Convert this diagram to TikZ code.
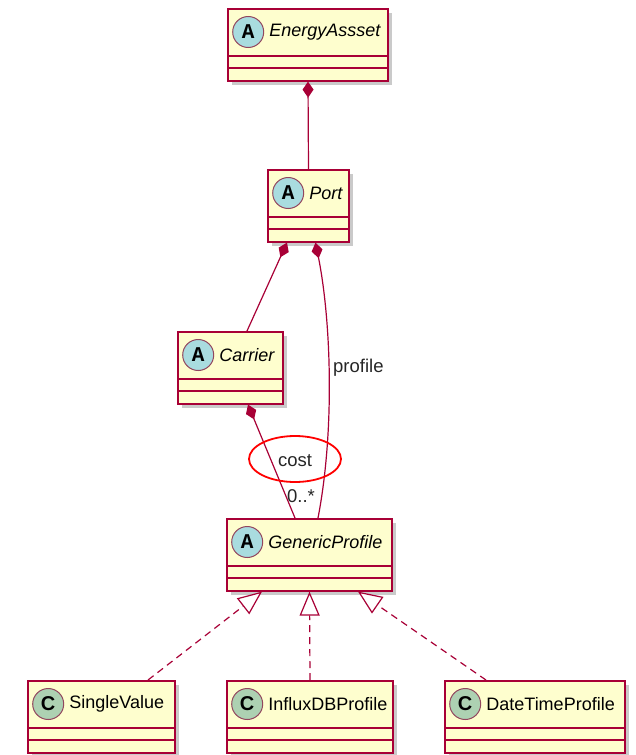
\documentclass[tikz,border=0pt]{standalone}
\usepackage{fontspec}
\setmainfont{Liberation Sans}
\newfontfamily\letterfont{Liberation Mono}
\usetikzlibrary{arrows.meta,shadows}
\definecolor{umlfill}{HTML}{FEFECE}
\definecolor{umlline}{HTML}{A80036}
\definecolor{absfill}{HTML}{A9DCDF}
\definecolor{clsfill}{HTML}{ADD1B2}

\tikzset{
  classbox/.style={draw=umlline, line width=1.6pt, fill=umlfill, minimum height=72pt,
    inner sep=0pt, anchor=north,
    drop shadow={shadow xshift=4pt, shadow yshift=-4pt, opacity=0.35, fill=black!60}},
  divider/.style={draw=umlline, line width=1.3pt},
  badge/.style={circle, draw=umlline!45!gray, line width=1pt, minimum size=31pt, inner sep=0pt},
  classname/.style={anchor=west, inner sep=0pt, font=\fontsize{18}{20}\selectfont},
  link/.style={draw=umlline, line width=1.2pt},
  compose/.style={link, {Diamond[length=16pt,width=11pt]}-},
  realize/.style={link, dash pattern=on 7pt off 5pt,
    -{Triangle[open, length=24pt, width=20pt, fill=white]}},
  lbl/.style={font=\fontsize{18.5}{20}\selectfont, text=black!85, inner sep=0pt},
}

% abstract / concrete badge letters
\newcommand\absletter{{\letterfont\bfseries\fontsize{21}{21}\selectfont A}}
\newcommand\clsletter{{\bfseries\fontsize{20}{20}\selectfont C}}

% class box: name, centre x, top y, width, badge letter, badge fill, class name
\newcommand\umlclass[7]{%
  \node[classbox, minimum width=#4pt] (#1) at (#2,#3) {};
  \draw[divider] ([yshift=-48pt]#1.north west) -- ([yshift=-48pt]#1.north east);
  \draw[divider] ([yshift=-60pt]#1.north west) -- ([yshift=-60pt]#1.north east);
  \node[badge, fill=#6] (#1-badge) at ([xshift=21pt,yshift=-24pt]#1.north west) {#5};
  \node[classname] (#1-name) at ([xshift=5pt]#1-badge.east) {#7};
}

\begin{document}
\begin{tikzpicture}[x=1pt, y=-1pt]
  \useasboundingbox (0,0) rectangle (636,755);

  \umlclass{ea}{308}{8}{160}{\absletter}{absfill}{\itshape EnergyAssset}
  \umlclass{port}{308.5}{169}{81}{\absletter}{absfill}{\itshape Port}
  \umlclass{carrier}{230.5}{331}{105}{\absletter}{absfill}{\itshape Carrier}
  \umlclass{gp}{309.5}{518}{165}{\absletter}{absfill}{\itshape GenericProfile}
  \umlclass{sv}{101.5}{680}{147}{\clsletter}{clsfill}{SingleValue}
  \umlclass{influx}{310}{680}{166}{\clsletter}{clsfill}{InfluxDBProfile}
  \umlclass{dt}{535}{680}{180}{\clsletter}{clsfill}{DateTimeProfile}

  % compositions
  \draw[compose] (ea.south) -- (port.north);
  \draw[compose] ([xshift=-21.5pt]port.south) -- ([xshift=16.5pt]carrier.north);
  \draw[compose] ([xshift=7pt]port.south) .. controls (331,320) and (335,430) .. ([xshift=8.5pt]gp.north);
  \draw[compose] ([xshift=17.5pt]carrier.south) -- ([xshift=-14.5pt]gp.north);

  % association labels
  \node[lbl, anchor=west] (proflbl) at (333,368) {profile};
  \node[lbl] (costlbl) at (295,461) {cost};
  \node[lbl] (mult) at (301,496) {0..*};
  \draw[red, line width=1.8pt] ([yshift=2pt]costlbl.center) ellipse [x radius=46pt, y radius=23pt];

  % realizations
  \draw[realize] ([xshift=46.5pt]sv.north) -- ([xshift=-47.5pt]gp.south);
  \draw[realize] (influx.north) -- (gp.south);
  \draw[realize] ([xshift=-49pt]dt.north) -- ([xshift=48.5pt]gp.south);
\end{tikzpicture}
\end{document}
